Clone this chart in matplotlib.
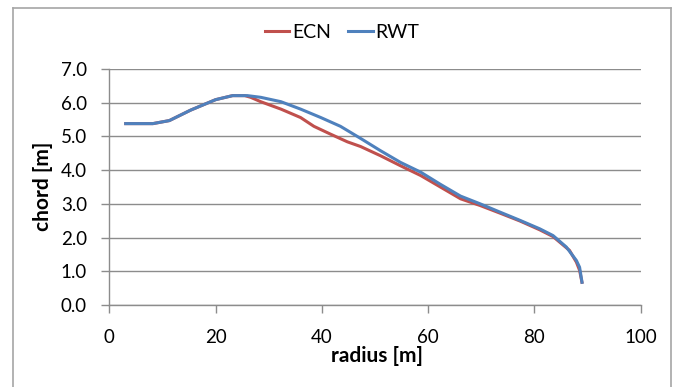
import matplotlib
matplotlib.use("Agg")
import matplotlib.pyplot as plt
from matplotlib.lines import Line2D

plt.rcParams['font.family'] = ['Lato', 'DejaVu Sans']

# Data
ecn_radius = [2.8, 8.2, 11.3, 15.3, 20.0, 23.2, 25.5, 26.6, 28.5, 32.3, 36.0, 38.5, 41.6, 44.8,
              47.3, 51.0, 54.8, 58.6, 62.3, 66.1, 69.8, 73.6, 77.3, 81.0, 83.5, 86.6, 87.9,
              88.5, 89.0]
ecn_chord = [5.38, 5.38, 5.47, 5.78, 6.09, 6.21, 6.21, 6.16, 6.03, 5.81, 5.56, 5.30, 5.07, 4.84,
             4.70, 4.43, 4.13, 3.84, 3.50, 3.15, 2.95, 2.72, 2.49, 2.23, 2.03, 1.62, 1.27,
             1.03, 0.63]
rwt_radius = [2.8, 8.2, 11.3, 15.3, 20.0, 23.2, 26.0, 28.5, 32.3, 36.0, 39.8, 43.5, 47.3, 51.0,
              54.8, 58.6, 62.3, 66.1, 69.8, 73.6, 77.3, 81.0, 83.5, 86.0, 87.9, 88.5, 89.0]
rwt_chord = [5.38, 5.38, 5.47, 5.78, 6.09, 6.21, 6.21, 6.16, 6.03, 5.81, 5.56, 5.30, 4.94, 4.58,
             4.23, 3.94, 3.58, 3.23, 3.00, 2.75, 2.51, 2.26, 2.06, 1.72, 1.32, 1.12, 0.63]
x_ticks = [0, 20, 40, 60, 80, 100]
y_ticks = [0.0, 1.0, 2.0, 3.0, 4.0, 5.0, 6.0, 7.0]

W, H = 676, 387
fig = plt.figure(figsize=(W / 100, H / 100), dpi=100)
ax = fig.add_axes([109.3 / W, 1 - 305 / H, (640.7 - 109.3) / W, (305 - 69) / H])

grid_c = '#8c8c8c'
ax.plot(ecn_radius, ecn_chord, color='#C0504D', lw=2.2, label='ECN', zorder=3,
        solid_joinstyle='round', solid_capstyle='butt')
ax.plot(rwt_radius, rwt_chord, color='#4F81BD', lw=2.2, label='RWT', zorder=4,
        solid_joinstyle='round', solid_capstyle='butt')

ax.set_xlim(0, 100)
ax.set_ylim(0, 7)
ax.set_xticks(x_ticks)
ax.set_yticks(y_ticks)
ax.set_yticklabels([f"{v:.1f}" for v in y_ticks])
ax.yaxis.grid(True, color=grid_c, lw=1.0)
ax.set_axisbelow(True)
for s in ['top', 'right']:
    ax.spines[s].set_visible(False)
for s in ['left', 'bottom']:
    ax.spines[s].set_color(grid_c)
    ax.spines[s].set_linewidth(1.0)
ax.tick_params(axis='both', colors=grid_c, labelcolor='black', labelsize=13.5,
               length=6, width=1.0, direction='out')
ax.tick_params(axis='x', pad=11)
ax.tick_params(axis='y', pad=10)

ax.set_xlabel('radius [m]', fontsize=15, fontweight='bold')
ax.set_ylabel('chord [m]', fontsize=15, fontweight='bold')
ax.xaxis.set_label_coords(0.503, -0.218)
ax.xaxis.label.set_va('center')
ax.yaxis.set_label_coords(-0.125, 0.502)
ax.yaxis.label.set_va('center')
ax.yaxis.label.set_ha('center')

handles = [Line2D([], [], color='#C0504D', lw=2.2), Line2D([], [], color='#4F81BD', lw=2.2)]
fig.legend(handles, ['ECN', 'RWT'], loc='center', bbox_to_anchor=(342 / W, 1 - 32 / H),
           ncol=2, frameon=False, fontsize=14, handlelength=1.25, handletextpad=0.15,
           columnspacing=0.9, borderaxespad=0, borderpad=0)

# chart-area border
bc = '#a6a6a6'
x0, x1, yt = 13 / W, 671 / W, 1 - 8 / H
fig.add_artist(Line2D([x0, x0], [0, yt], color=bc, lw=1.2, transform=fig.transFigure))
fig.add_artist(Line2D([x1, x1], [0, yt], color=bc, lw=1.2, transform=fig.transFigure))
fig.add_artist(Line2D([x0, x1], [yt, yt], color=bc, lw=1.2, transform=fig.transFigure))

fig.savefig('out.png', dpi=100)
